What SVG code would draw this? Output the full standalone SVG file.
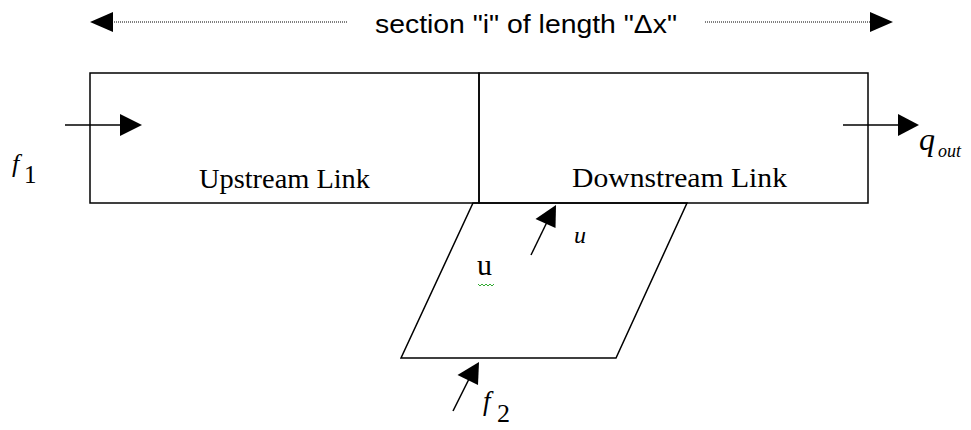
<svg xmlns="http://www.w3.org/2000/svg" width="971" height="430" viewBox="0 0 971 430">
<style>
.box{fill:none;stroke:#000;stroke-width:1.5}
.ln{stroke:#000;stroke-width:1.5;fill:none}
.dot{stroke:#000;stroke-width:1;stroke-dasharray:1 1;fill:none}
.sans{font-family:"Liberation Sans",Arial,sans-serif;fill:#000}
.serif{font-family:"Liberation Serif","Times New Roman","DejaVu Serif",serif;fill:#000}
</style>
<rect width="971" height="430" fill="#fff"/>
<g id="title">
<text class="sans" x="375" y="33" font-size="25" textLength="302" lengthAdjust="spacingAndGlyphs">section "i" of length "Δx"</text>
</g>
<g id="upstream">
<rect class="box" x="90" y="73" width="389" height="130"/>
<text class="serif" x="199" y="188" font-size="27" textLength="171" lengthAdjust="spacingAndGlyphs">Upstream Link</text>
</g>
<g id="downstream">
<rect class="box" x="479" y="73" width="389" height="130"/>
<text class="serif" x="572" y="187" font-size="27" textLength="215" lengthAdjust="spacingAndGlyphs">Downstream Link</text>
</g>
<g id="ramp">
<polygon class="box" points="473,203 687,203 616,358 401,358"/>
<text class="serif" x="477" y="275" font-size="30">u</text>
<path d="M478,284 l2,2 l2,-2 l2,2 l2,-2 l2,2 l2,-2 l2,2 l2,-2" fill="none" stroke="#3a3" stroke-width="1"/>
</g>
<g id="labels">
<text class="serif" x="12" y="172" font-size="26" font-style="italic">f</text>
<text class="serif" x="24" y="183" font-size="25">1</text>
<text class="serif" x="919" y="150" font-size="32" font-style="italic">q</text>
<text class="serif" x="938" y="157" font-size="18" font-style="italic">out</text>
<text class="serif" x="574" y="243" font-size="24" font-style="italic">u</text>
<text class="serif" x="483" y="410" font-size="27" font-style="italic">f</text>
<text class="serif" x="497" y="422" font-size="26">2</text>
</g>
<g id="connectors">
<path class="dot" d="M347,22 H113"/>
<path d="M113,12 L90,22 L113,32 Z" fill="#000"/>
<path class="dot" d="M705,22 H873"/>
<path d="M870,12 L893,22 L870,32 Z" fill="#000"/>
<path class="ln" d="M65,125 H122"/>
<path d="M120,114 L142,125 L120,136 Z" fill="#000"/>
<path class="ln" d="M843,125 H900"/>
<path d="M898,114 L919,125 L898,136 Z" fill="#000"/>
<path class="ln" d="M531,255 L548,220"/>
<path d="M535.5,219 L556,205 L555.5,228 Z" fill="#000"/>
<path class="ln" d="M453,411 L470,377"/>
<path d="M457.5,375 L479,362 L478,385 Z" fill="#000"/>
</g>
</svg>
